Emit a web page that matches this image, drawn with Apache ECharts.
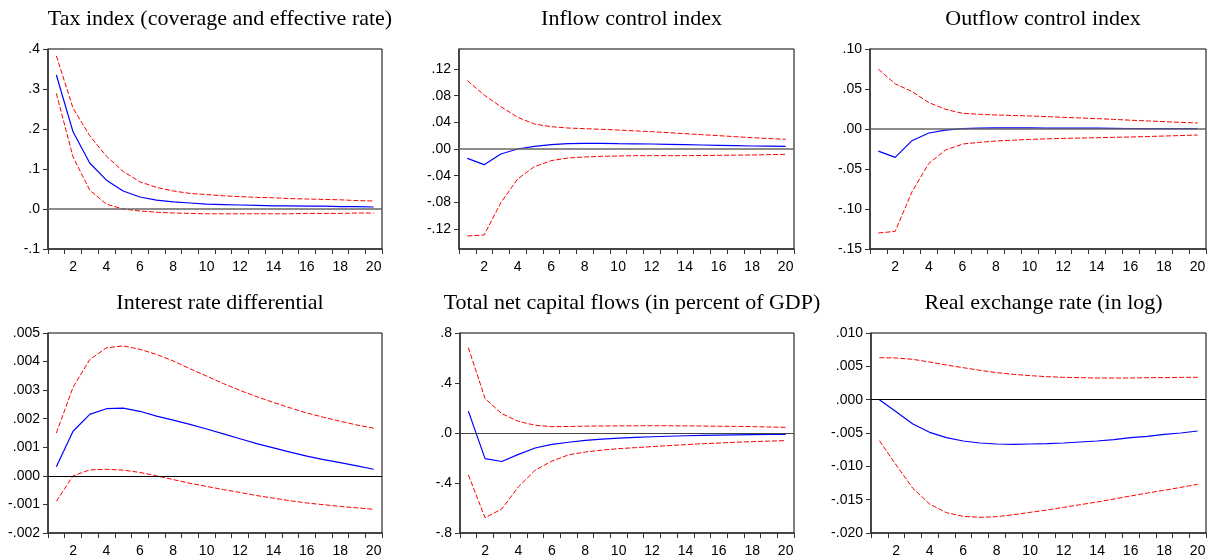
<!DOCTYPE html>
<html>
<head>
<meta charset="utf-8">
<script src="https://cdn.jsdelivr.net/npm/echarts@6/dist/echarts.min.js"></script>
<style>
html,body{margin:0;padding:0;background:#fff;}
#chart{width:1209px;height:558px;}
</style>
</head>
<body>
<div id="chart"></div>
<script>
// ---------- data ----------
const periods = ['1','2','3','4','5','6','7','8','9','10','11','12','13','14','15','16','17','18','19','20'];

const titles = [
  'Tax index (coverage and effective rate)',
  'Inflow control index',
  'Outflow control index',
  'Interest rate differential',
  'Total net capital flows (in percent of GDP)',
  'Real exchange rate (in log)'
];

// Tax index
const taxMid   = [0.335,0.193,0.115,0.072,0.045,0.030,0.022,0.018,0.015,0.012,0.011,0.010,0.009,0.008,0.008,0.007,0.007,0.006,0.006,0.005];
const taxUpper = [0.383,0.252,0.183,0.132,0.094,0.068,0.054,0.045,0.039,0.036,0.033,0.031,0.029,0.028,0.026,0.025,0.024,0.023,0.021,0.020];
const taxLower = [0.289,0.130,0.047,0.012,0.000,-0.005,-0.008,-0.010,-0.011,-0.012,-0.012,-0.012,-0.012,-0.012,-0.012,-0.011,-0.011,-0.011,-0.010,-0.010];

// Inflow control index
const inMid   = [-0.014,-0.0235,-0.0075,0.000,0.004,0.0065,0.008,0.0085,0.0085,0.008,0.0078,0.0075,0.007,0.0065,0.006,0.0055,0.005,0.0045,0.0042,0.004];
const inUpper = [0.1025,0.081,0.0635,0.0475,0.0375,0.0335,0.0315,0.0305,0.0295,0.0285,0.0272,0.026,0.0245,0.023,0.0215,0.020,0.0185,0.017,0.0157,0.0145];
const inLower = [-0.1305,-0.129,-0.0805,-0.045,-0.0265,-0.0175,-0.0135,-0.012,-0.011,-0.0105,-0.010,-0.010,-0.010,-0.010,-0.0097,-0.0095,-0.0092,-0.009,-0.0085,-0.008];

// Outflow control index
const outMid   = [-0.0276,-0.0355,-0.0146,-0.005,-0.0013,0.0004,0.001,0.0013,0.0013,0.0013,0.0012,0.001,0.001,0.001,0.0008,0.0006,0.0005,0.0005,0.0004,0.0004];
const outUpper = [0.0748,0.0564,0.0468,0.033,0.0246,0.0196,0.0184,0.0175,0.0169,0.0163,0.0155,0.0146,0.0138,0.013,0.012,0.011,0.0101,0.0092,0.0083,0.0075];
const outLower = [-0.130,-0.128,-0.0785,-0.043,-0.0263,-0.0188,-0.0167,-0.015,-0.014,-0.013,-0.0123,-0.0117,-0.0113,-0.0109,-0.0104,-0.010,-0.0094,-0.0088,-0.0082,-0.0075];

// Interest rate differential
const irMid   = [0.00032,0.00156,0.00215,0.00235,0.00237,0.00226,0.00209,0.00195,0.00180,0.00164,0.00147,0.00130,0.00113,0.00098,0.00083,0.00069,0.00057,0.00046,0.00035,0.00023];
const irUpper = [0.0015,0.0031,0.00407,0.00448,0.00455,0.00443,0.00425,0.00402,0.00375,0.00349,0.00323,0.00299,0.00277,0.00257,0.00238,0.0022,0.00205,0.00191,0.00178,0.00167];
const irLower = [-0.00089,0.0,0.00021,0.00023,0.0002,0.00012,0.0,-0.00013,-0.00026,-0.00037,-0.00048,-0.00058,-0.00069,-0.00078,-0.00087,-0.00095,-0.00101,-0.00107,-0.00112,-0.00117];

// Total net capital flows
const nfMid   = [0.175,-0.205,-0.228,-0.171,-0.12,-0.091,-0.074,-0.059,-0.049,-0.041,-0.035,-0.030,-0.026,-0.022,-0.019,-0.017,-0.015,-0.013,-0.012,-0.011];
const nfUpper = [0.683,0.276,0.155,0.093,0.062,0.051,0.052,0.055,0.056,0.057,0.058,0.058,0.058,0.057,0.056,0.054,0.053,0.051,0.048,0.045];
const nfLower = [-0.335,-0.678,-0.608,-0.43,-0.298,-0.225,-0.175,-0.152,-0.137,-0.125,-0.117,-0.109,-0.101,-0.093,-0.086,-0.08,-0.074,-0.069,-0.065,-0.061];

// Real exchange rate
const rerMid   = [0,-0.0018,-0.00365,-0.0049,-0.0057,-0.0062,-0.0065,-0.00665,-0.0067,-0.00665,-0.0066,-0.0065,-0.00635,-0.0062,-0.006,-0.0057,-0.0055,-0.0052,-0.0050,-0.0047];
const rerUpper = [0.0063,0.00625,0.00605,0.00565,0.0052,0.0048,0.0044,0.00405,0.0038,0.0036,0.00345,0.00335,0.0033,0.00325,0.00325,0.00325,0.0033,0.0033,0.00335,0.00335];
const rerLower = [-0.00615,-0.0098,-0.0133,-0.01565,-0.01695,-0.0175,-0.01765,-0.01755,-0.01725,-0.0169,-0.01655,-0.01615,-0.01575,-0.01535,-0.0149,-0.01445,-0.014,-0.0136,-0.01315,-0.0127];

// y axis ranges and tick values
const yMin = [-0.1, -0.15, -0.15, -0.002, -0.8, -0.020];
const yMax = [0.4, 0.15, 0.10, 0.005, 0.8, 0.010];
const yTicks = [
  [-0.1, 0, 0.1, 0.2, 0.3, 0.4],
  [-0.12, -0.08, -0.04, 0, 0.04, 0.08, 0.12],
  [-0.15, -0.10, -0.05, 0, 0.05, 0.10],
  [-0.002, -0.001, 0, 0.001, 0.002, 0.003, 0.004, 0.005],
  [-0.8, -0.4, 0, 0.4, 0.8],
  [-0.020, -0.015, -0.010, -0.005, 0, 0.005, 0.010]
];
const yDecimals = [1, 2, 2, 3, 1, 3];

const panels = [
  [taxMid, taxUpper, taxLower],
  [inMid, inUpper, inLower],
  [outMid, outUpper, outLower],
  [irMid, irUpper, irLower],
  [nfMid, nfUpper, nfLower],
  [rerMid, rerUpper, rerLower]
];

// ---------- layout ----------
const grids = [
  {left: 48,  top: 49,  width: 334, height: 200},
  {left: 459, top: 49,  width: 335, height: 200},
  {left: 870, top: 49,  width: 336, height: 200},
  {left: 48,  top: 333, width: 334, height: 200},
  {left: 460, top: 333, width: 334, height: 200},
  {left: 871, top: 333, width: 335, height: 200}
];
const titleY = [3, 287];
const zeroStyle = [
  {color: '#666', width: 1.5},
  {color: '#666', width: 1.5},
  {color: '#666', width: 1.5},
  {color: '#000', width: 1},
  {color: '#444', width: 1.2},
  {color: '#000', width: 1}
];

const option = {
  animation: false,
  backgroundColor: '#ffffff',
  title: [],
  grid: [],
  xAxis: [],
  yAxis: [],
  series: []
};

grids.forEach((g, i) => {
  option.grid.push({
    left: g.left, top: g.top, width: g.width, height: g.height,
    show: true, borderColor: '#000', borderWidth: 1, backgroundColor: '#fff'
  });
  option.title.push({
    text: titles[i],
    left: g.left + g.width / 2,
    top: titleY[i < 3 ? 0 : 1],
    textAlign: 'center',
    textStyle: {fontFamily: 'Liberation Serif', fontWeight: 'normal', fontSize: 22, color: '#000'}
  });
  option.xAxis.push({
    type: 'category',
    gridIndex: i,
    data: periods,
    boundaryGap: true,
    axisLine: {show: true, onZero: false, lineStyle: {color: '#333', width: 1.5}},
    axisTick: {show: true, interval: 0, inside: false, length: 5, alignWithLabel: false, lineStyle: {color: '#333', width: 1}},
    axisLabel: {
      interval: function (idx) { return idx % 2 === 1; },
      margin: 11,
      fontFamily: 'Liberation Sans', fontSize: 14, color: '#000'
    },
    splitLine: {show: false}
  });
  const dec = yDecimals[i];
  option.yAxis.push({
    type: 'value',
    gridIndex: i,
    min: yMin[i],
    max: yMax[i],
    axisLine: {show: true, onZero: false, lineStyle: {color: '#333', width: 1.5}},
    axisTick: {show: true, inside: false, length: 5, customValues: yTicks[i], lineStyle: {color: '#333', width: 1}},
    axisLabel: {
      customValues: yTicks[i],
      margin: 8,
      fontFamily: 'Liberation Sans', fontSize: 14, color: '#000',
      formatter: function (v) { return Number(v).toFixed(dec).replace('0.', '.'); }
    },
    splitLine: {show: false}
  });
  const [mid, up, lo] = panels[i];
  option.series.push({
    type: 'line', xAxisIndex: i, yAxisIndex: i, data: mid,
    symbol: 'none', smooth: false, z: 3,
    lineStyle: {color: '#0000ff', width: 1.2},
    markLine: {
      silent: true, symbol: ['none', 'none'], label: {show: false},
      lineStyle: {type: 'solid', color: zeroStyle[i].color, width: zeroStyle[i].width},
      data: [{yAxis: 0}]
    }
  });
  option.series.push({
    type: 'line', xAxisIndex: i, yAxisIndex: i, data: up,
    symbol: 'none', smooth: false, z: 3,
    lineStyle: {color: '#ff0000', width: 1, type: [5, 2]}
  });
  option.series.push({
    type: 'line', xAxisIndex: i, yAxisIndex: i, data: lo,
    symbol: 'none', smooth: false, z: 3,
    lineStyle: {color: '#ff0000', width: 1, type: [5, 2]}
  });
});

const chart = echarts.init(document.getElementById('chart'), null, {renderer: 'canvas'});
chart.setOption(option);
</script>
</body>
</html>
